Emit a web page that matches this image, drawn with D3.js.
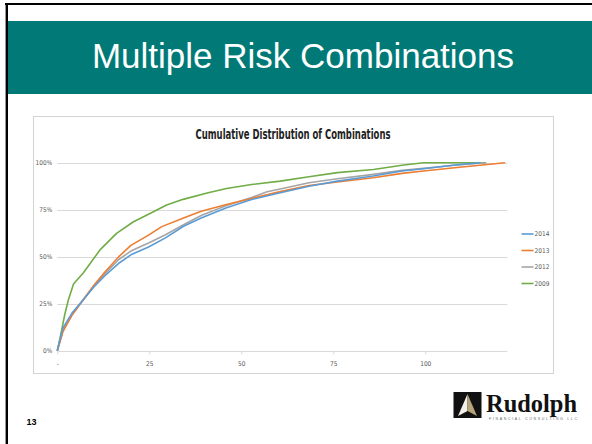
<!DOCTYPE html>
<html>
<head>
<meta charset="utf-8">
<script src="https://cdn.jsdelivr.net/npm/d3@7/dist/d3.min.js"></script>
<style>
  html, body { margin: 0; padding: 0; background: #fff; }
  svg { display: block; }
</style>
</head>
<body>
<svg id="slide" width="592" height="444"></svg>
<script>
// Number of combinations (x) and cumulative share of cases (y, %)
const x2014 = [0, 1.5, 4, 7, 10, 13, 16.7, 20, 24.8, 29.4, 34.3, 39.1, 46, 52.8, 60.6, 68.4, 76.1, 85.9, 93.7, 99.5, 109.3, 115];
const y2014 = [0, 12, 20, 27, 34, 40, 46.5, 51, 55.2, 60, 66.2, 70.6, 76, 80.4, 84, 87.5, 90.2, 92.9, 95.6, 96.8, 99, 100];

const x2013 = [0, 1.5, 4, 7, 10, 13, 16.7, 20, 24.8, 28.4, 34.3, 39.1, 46, 52.8, 60.6, 68.4, 76.1, 85.9, 93.7, 99.5, 109.3, 121.7];
const y2013 = [0, 10, 19, 27, 35, 42, 50, 56, 61.5, 66, 70.6, 74.2, 77.8, 81, 84.6, 87.9, 89.7, 92, 94.3, 95.6, 97.6, 100];

const x2012 = [0, 1.5, 4, 7, 10, 13, 16.7, 20, 24.8, 29.4, 34.3, 39.1, 46, 52.8, 57, 60.6, 68.4, 76.1, 85.9, 93.7, 99.5, 109.3, 116.5];
const y2012 = [0, 10.5, 19, 27, 34.5, 41, 48.5, 53, 57.3, 61.7, 67, 71.9, 77.2, 81.5, 84.5, 86, 89.3, 91.5, 93.8, 95.9, 97, 98.9, 100];

const x2009 = [0, 1, 2, 3, 4.4, 7.1, 11.6, 16.1, 20.7, 25.2, 29.7, 34.2, 41, 46, 52.8, 60.6, 68.4, 76.1, 85.9, 93.7, 99.5, 116.6];
const y2009 = [0, 9, 19, 27, 35.5, 41.5, 53.6, 62.4, 68.6, 73, 77.5, 80.5, 84, 86.3, 88.4, 90.2, 92.5, 94.7, 96.4, 98.6, 100, 100];

const seriesNames = ["2014", "2013", "2012", "2009"];
const seriesColors = ["#5B9BD5", "#ED7D31", "#A5A5A5", "#70AD47"];
const xTickValues = [0, 25, 50, 75, 100];
const xTickLabels = ["-", "25", "50", "75", "100"];
const yTickValues = [0, 25, 50, 75, 100];
const yTickLabels = ["0%", "25%", "50%", "75%", "100%"];

const slideTitle = "Multiple Risk Combinations";
const chartTitle = "Cumulative Distribution of Combinations";
const pageNumber = "13";

const svg = d3.select("#slide");

// Slide frame: black rules on top and left
svg.append("rect").attr("x", 5).attr("y", 3).attr("width", 587).attr("height", 2).attr("fill", "#000");
svg.append("rect").attr("x", 6).attr("y", 3).attr("width", 2).attr("height", 441).attr("fill", "#000");
svg.append("rect").attr("x", 5).attr("y", 5).attr("width", 1).attr("height", 439).attr("fill", "#999");

// Title band
svg.append("rect").attr("x", 8).attr("y", 21).attr("width", 584).attr("height", 73).attr("fill", "#017A77");
svg.append("text")
  .attr("x", 303).attr("y", 68)
  .attr("text-anchor", "middle")
  .attr("font-family", "Liberation Sans, Arial, sans-serif")
  .attr("font-size", 35)
  .attr("fill", "#fff")
  .text(slideTitle);

// Chart box
svg.append("rect")
  .attr("x", 33.5).attr("y", 116.5).attr("width", 520).attr("height", 257)
  .attr("fill", "#fff").attr("stroke", "#d4d4d4").attr("stroke-width", 1);

svg.append("text")
  .attr("x", 195.5).attr("y", 139)
  .attr("font-family", "DejaVu Sans Condensed, Liberation Sans, sans-serif")
  .attr("font-weight", "bold")
  .attr("font-size", 13.5)
  .attr("fill", "#222")
  .attr("textLength", 195).attr("lengthAdjust", "spacingAndGlyphs")
  .text(chartTitle);

// Plot area
const plot = { left: 57.3, right: 507.3, top: 162.7, bottom: 350.7 };
const x = d3.scaleLinear().domain([0, 122.3]).range([plot.left, plot.right]);
const y = d3.scaleLinear().domain([0, 100]).range([plot.bottom, plot.top]);

const g = svg.append("g");

// Horizontal gridlines
g.selectAll("line.grid")
  .data(yTickValues)
  .join("line")
  .attr("class", "grid")
  .attr("x1", plot.left).attr("x2", plot.right)
  .attr("y1", d => Math.round(y(d)) + 0.5).attr("y2", d => Math.round(y(d)) + 0.5)
  .attr("stroke", "#d9d9d9").attr("stroke-width", 1);

// Y axis labels
const yAxis = d3.axisLeft(y).tickValues(yTickValues)
  .tickFormat((d, i) => yTickLabels[i]).tickSize(0).tickPadding(5);
const yg = g.append("g").attr("transform", `translate(${plot.left},0)`).call(yAxis);
yg.select(".domain").remove();
yg.selectAll("text")
  .attr("font-family", "DejaVu Sans Condensed, sans-serif")
  .attr("font-size", 6.5).attr("fill", "#595959");

// X axis ticks and labels
const xAxis = d3.axisBottom(x).tickValues(xTickValues)
  .tickFormat((d, i) => xTickLabels[i]).tickSize(3).tickPadding(7);
const xg = g.append("g").attr("transform", `translate(0,${Math.round(plot.bottom) + 0.5})`).call(xAxis);
xg.select(".domain").remove();
xg.selectAll(".tick line").attr("stroke", "#d9d9d9");
xg.selectAll("text")
  .attr("font-family", "DejaVu Sans Condensed, sans-serif")
  .attr("font-size", 6.5).attr("fill", "#595959");

// Series lines
const seriesData = [
  x2014.map((v, i) => [v, y2014[i]]),
  x2013.map((v, i) => [v, y2013[i]]),
  x2012.map((v, i) => [v, y2012[i]]),
  x2009.map((v, i) => [v, y2009[i]])
];
const line = d3.line().x(d => x(d[0])).y(d => y(d[1]));
// Draw order: 2009 under, then 2012, 2013, 2014 on top where they cross
[3, 2, 1, 0].forEach(i => {
  g.append("path")
    .datum(seriesData[i])
    .attr("d", line)
    .attr("fill", "none")
    .attr("stroke", seriesColors[i])
    .attr("stroke-width", 1.6)
    .attr("stroke-linejoin", "round");
});

// Legend
const legend = svg.append("g");
seriesNames.forEach((name, i) => {
  const ly = 234 + i * 16.5;
  legend.append("line")
    .attr("x1", 521.5).attr("x2", 533.5).attr("y1", ly).attr("y2", ly)
    .attr("stroke", seriesColors[i]).attr("stroke-width", 1.6);
  legend.append("text")
    .attr("x", 534.5).attr("y", ly + 2.3)
    .attr("font-family", "DejaVu Sans Condensed, sans-serif")
    .attr("font-size", 6.5).attr("fill", "#595959")
    .text(name);
});

// Page number
svg.append("text")
  .attr("x", 26.5).attr("y", 425)
  .attr("font-family", "Liberation Sans, Arial, sans-serif")
  .attr("font-weight", "bold").attr("font-size", 9).attr("fill", "#000")
  .text(pageNumber);

// Company logo
const logo = svg.append("g");
logo.append("rect").attr("x", 453.5).attr("y", 392).attr("width", 28).attr("height", 26).attr("fill", "#111");
logo.append("path").attr("d", "M467.5,394 L458,416 L467.5,411 Z").attr("fill", "#f4f1e8");
logo.append("path").attr("d", "M467.5,394 L477,416 L467.5,411 Z").attr("fill", "#b9a57a");
logo.append("text")
  .attr("x", 486).attr("y", 411.5)
  .attr("font-family", "Liberation Serif, Times New Roman, serif")
  .attr("font-weight", "bold").attr("font-size", 25).attr("fill", "#111")
  .attr("textLength", 91).attr("lengthAdjust", "spacingAndGlyphs")
  .text("Rudolph");
logo.append("text")
  .attr("x", 489).attr("y", 420)
  .attr("font-family", "Liberation Sans, Arial, sans-serif")
  .attr("font-size", 3.6).attr("fill", "#666")
  .attr("textLength", 88).attr("lengthAdjust", "spacing")
  .text("FINANCIAL CONSULTING LLC");
</script>
</body>
</html>
